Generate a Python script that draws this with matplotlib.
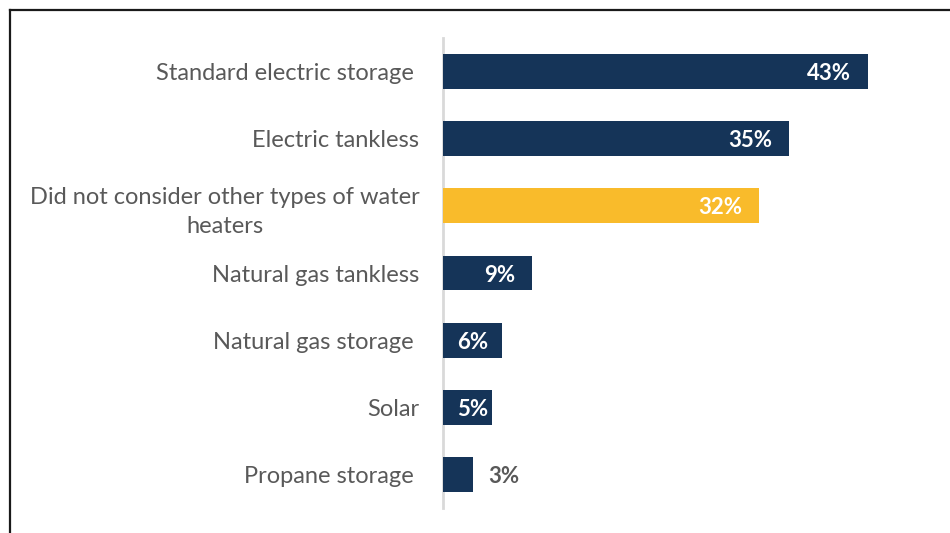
import matplotlib
matplotlib.use("Agg")
import matplotlib.pyplot as plt
from matplotlib.lines import Line2D

categories = [
    "Standard electric storage ",
    "Electric tankless",
    "Did not consider other types of water\nheaters",
    "Natural gas tankless",
    "Natural gas storage ",
    "Solar",
    "Propane storage ",
]
values = [43, 35, 32, 9, 6, 5, 3]
highlight = "Did not consider other types of water\nheaters"

NAVY = "#153458"
GOLD = "#F9BB2B"
TEXT = "#595959"

plt.rcParams["font.family"] = ["Lato", "DejaVu Sans"]

fig = plt.figure(figsize=(9.5, 5.33), dpi=100)
ax = fig.add_axes([443 / 950, 1 - 508 / 533, (917 - 443) / 950, (508 - 38) / 533])

ypos = list(range(len(categories)))
colors = [GOLD if c == highlight else NAVY for c in categories]
bars = ax.barh(ypos, values, height=0.52, color=colors, zorder=3)

ax.set_xlim(0, 48)
ax.set_ylim(len(categories) - 0.5, -0.5)
ax.set_yticks(ypos)
ax.set_yticklabels(categories, fontsize=17, color=TEXT,
                   multialignment="center", linespacing=1.5)
ax.tick_params(axis="y", length=0, pad=17)
ax.set_xticks([])

for side in ("top", "right", "bottom"):
    ax.spines[side].set_visible(False)
ax.spines["left"].set_color("#D9D9D9")
ax.spines["left"].set_linewidth(2)

for bar, v in zip(bars, values):
    y = bar.get_y() + bar.get_height() / 2
    if v >= 9:
        ax.annotate(f"{v}%", (v, y), xytext=(-12, -1.5), textcoords="offset points",
                    ha="right", va="center", color="white", fontsize=16,
                    fontweight="bold")
    elif v >= 5:
        ax.annotate(f"{v}%", (0, y), xytext=(10, -1.5), textcoords="offset points",
                    ha="left", va="center", color="white", fontsize=16,
                    fontweight="bold")
    else:
        ax.annotate(f"{v}%", (v, y), xytext=(11, -1.5), textcoords="offset points",
                    ha="left", va="center", color=TEXT, fontsize=16,
                    fontweight="bold")

# frame lines along the top and left edges
fig.add_artist(Line2D([9.5 / 950, 1.0], [1 - 10 / 533, 1 - 10 / 533],
                      transform=fig.transFigure, color="#1a1a1a", lw=1.6))
fig.add_artist(Line2D([9.5 / 950, 9.5 / 950], [0, 1 - 10 / 533],
                      transform=fig.transFigure, color="#1a1a1a", lw=1.6))

fig.savefig("out.png", dpi=100)
